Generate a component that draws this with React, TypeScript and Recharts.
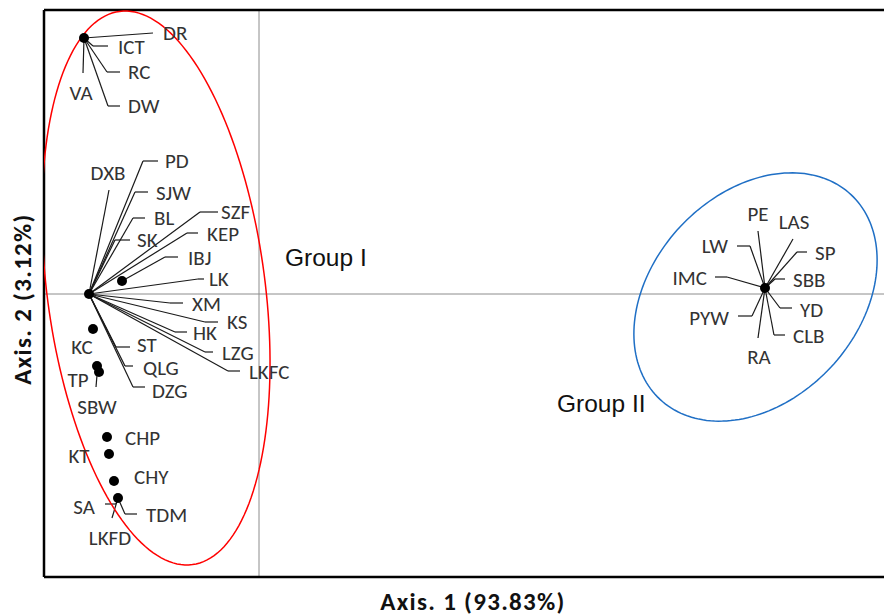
import { ScatterChart, Scatter, XAxis, YAxis, ReferenceLine } from "recharts";

// PCoA coordinates (axis units)
const dots = [
  { name: "DR", x: -1.75, y: 2.56 },
  { name: "core", x: -1.7, y: 0 },
  { name: "IBJ", x: -1.37, y: 0.13 },
  { name: "KC", x: -1.66, y: -0.35 },
  { name: "TP", x: -1.62, y: -0.72 },
  { name: "SBW", x: -1.6, y: -0.78 },
  { name: "CHP", x: -1.52, y: -1.43 },
  { name: "KT", x: -1.5, y: -1.6 },
  { name: "CHY", x: -1.45, y: -1.87 },
  { name: "SA", x: -1.41, y: -2.04 },
  { name: "G2", x: 5.06, y: 0.06 },
];

const labels = [
  { name: "DR", x: -0.96, y: 2.61, anchor: "start" },
  { name: "ICT", x: -1.41, y: 2.47, anchor: "start" },
  { name: "RC", x: -1.31, y: 2.22, anchor: "start" },
  { name: "DW", x: -1.31, y: 1.88, anchor: "start" },
  { name: "VA", x: -1.78, y: 2.01, anchor: "middle" },
  { name: "PD", x: -0.94, y: 1.33, anchor: "start" },
  { name: "DXB", x: -1.51, y: 1.21, anchor: "middle" },
  { name: "SJW", x: -1.03, y: 1.01, anchor: "start" },
  { name: "BL", x: -1.05, y: 0.76, anchor: "start" },
  { name: "SK", x: -1.22, y: 0.54, anchor: "start" },
  { name: "SZF", x: -0.38, y: 0.82, anchor: "start" },
  { name: "KEP", x: -0.52, y: 0.6, anchor: "start" },
  { name: "IBJ", x: -0.71, y: 0.36, anchor: "start" },
  { name: "LK", x: -0.5, y: 0.15, anchor: "start" },
  { name: "XM", x: -0.67, y: -0.1, anchor: "start" },
  { name: "KS", x: -0.32, y: -0.28, anchor: "start" },
  { name: "HK", x: -0.66, y: -0.39, anchor: "start" },
  { name: "LZG", x: -0.37, y: -0.59, anchor: "start" },
  { name: "LKFC", x: -0.1, y: -0.78, anchor: "start" },
  { name: "ST", x: -1.22, y: -0.505, anchor: "start" },
  { name: "QLG", x: -1.16, y: -0.735, anchor: "start" },
  { name: "DZG", x: -1.07, y: -0.965, anchor: "start" },
  { name: "KC", x: -1.77, y: -0.53, anchor: "middle" },
  { name: "TP", x: -1.81, y: -0.86, anchor: "middle" },
  { name: "SBW", x: -1.62, y: -1.13, anchor: "middle" },
  { name: "CHP", x: -1.34, y: -1.44, anchor: "start" },
  { name: "KT", x: -1.8, y: -1.62, anchor: "middle" },
  { name: "CHY", x: -1.25, y: -1.83, anchor: "start" },
  { name: "SA", x: -1.75, y: -2.13, anchor: "middle" },
  { name: "LKFD", x: -1.49, y: -2.44, anchor: "middle" },
  { name: "TDM", x: -1.13, y: -2.21, anchor: "start" },
  { name: "PE", x: 4.99, y: 0.8, anchor: "middle" },
  { name: "LAS", x: 5.35, y: 0.72, anchor: "middle" },
  { name: "LW", x: 4.69, y: 0.48, anchor: "end" },
  { name: "SP", x: 5.56, y: 0.41, anchor: "start" },
  { name: "IMC", x: 4.48, y: 0.16, anchor: "end" },
  { name: "SBB", x: 5.34, y: 0.14, anchor: "start" },
  { name: "PYW", x: 4.7, y: -0.24, anchor: "end" },
  { name: "YD", x: 5.41, y: -0.16, anchor: "start" },
  { name: "CLB", x: 5.34, y: -0.42, anchor: "start" },
  { name: "RA", x: 5.0, y: -0.63, anchor: "middle" },
];

// leader lines: start at the sample dot, end next to the label
const leaders: [number, number][][] = [
  [[-1.75, 2.56], [-1.06, 2.61]],
  [[-1.75, 2.56], [-1.66, 2.48], [-1.51, 2.48]],
  [[-1.75, 2.56], [-1.52, 2.22], [-1.39, 2.22]],
  [[-1.75, 2.56], [-1.51, 1.88], [-1.39, 1.88]],
  [[-1.75, 2.56], [-1.76, 2.21]],
  [[-1.7, 0], [-1.16, 1.33], [-1.01, 1.33]],
  [[-1.7, 0], [-1.5, 1.04]],
  [[-1.7, 0], [-1.24, 1.02], [-1.11, 1.02]],
  [[-1.7, 0], [-1.26, 0.76], [-1.14, 0.76]],
  [[-1.7, 0], [-1.44, 0.54], [-1.29, 0.54]],
  [[-1.7, 0], [-0.59, 0.82], [-0.41, 0.82]],
  [[-1.7, 0], [-0.72, 0.61], [-0.61, 0.61]],
  [[-1.37, 0.13], [-0.94, 0.37], [-0.81, 0.37]],
  [[-1.7, 0], [-0.61, 0.15], [-0.55, 0.15]],
  [[-1.7, 0], [-0.89, -0.09], [-0.76, -0.09]],
  [[-1.7, 0], [-0.54, -0.28], [-0.41, -0.28]],
  [[-1.7, 0], [-0.84, -0.38], [-0.72, -0.38]],
  [[-1.7, 0], [-0.54, -0.58], [-0.46, -0.58]],
  [[-1.7, 0], [-0.31, -0.77], [-0.19, -0.77]],
  [[-1.7, 0], [-1.43, -0.53], [-1.29, -0.53]],
  [[-1.7, 0], [-1.34, -0.72], [-1.26, -0.72]],
  [[-1.7, 0], [-1.26, -0.93], [-1.14, -0.93]],
  [[-1.62, -0.81], [-1.63, -0.93]],
  [[-1.41, -2.04], [-1.43, -2.1], [-1.54, -2.1]],
  [[-1.41, -2.04], [-1.47, -2.24]],
  [[-1.41, -2.04], [-1.34, -2.2], [-1.22, -2.2]],
  [[5.06, 0.06], [4.99, 0.63]],
  [[5.06, 0.06], [5.34, 0.55]],
  [[5.06, 0.06], [4.91, 0.48], [4.78, 0.48]],
  [[5.06, 0.06], [5.38, 0.42], [5.48, 0.42]],
  [[5.06, 0.06], [4.68, 0.17], [4.56, 0.17]],
  [[5.06, 0.06], [5.16, 0.15], [5.26, 0.15]],
  [[5.06, 0.06], [4.93, -0.22], [4.79, -0.22]],
  [[5.06, 0.06], [5.21, -0.14], [5.33, -0.14]],
  [[5.06, 0.06], [5.15, -0.41], [5.26, -0.41]],
  [[5.06, 0.06], [4.99, -0.44]],
];

const groupNames = [
  { name: "Group I", x: 0.26, y: 0.37 },
  { name: "Group II", x: 2.98, y: -1.09 },
];

// confidence ellipses: centre, semi-axes, rotation (deg)
const ellipses = [
  { cx: -1.03, cy: 0.06, a: 2.79, b: 1.09, rot: 97.5, color: "#ff0000" },
  { cx: 4.965, cy: -0.03, a: 1.4, b: 1.03, rot: 47, color: "#1f6fc5" },
];

const xDomain: [number, number] = [-2.15, 6.33];
const yDomain: [number, number] = [-2.83, 2.84];

function ellipsePoints(e: (typeof ellipses)[number]) {
  const r = (e.rot * Math.PI) / 180;
  const pts = [];
  for (let i = 0; i <= 180; i++) {
    const t = (i / 180) * 2 * Math.PI;
    const u = e.a * Math.cos(t);
    const v = e.b * Math.sin(t);
    pts.push({ x: e.cx + u * Math.cos(r) - v * Math.sin(r), y: e.cy + u * Math.sin(r) + v * Math.cos(r) });
  }
  return pts;
}

const labelFont = "Carlito, Calibri, Lato, sans-serif";

const titleStyle = {
  position: "absolute" as const,
  whiteSpace: "nowrap" as const,
  fontFamily: labelFont,
  fontWeight: 700,
  fontSize: 25,
  letterSpacing: 1.3,
  color: "#111",
};

export default function App() {
  return (
    <div style={{ position: "relative", width: 884, height: 607 }}>
      <ScatterChart width={884} height={607} margin={{ top: 2, right: 0, bottom: 38, left: 36 }}>
        <XAxis type="number" dataKey="x" domain={xDomain} hide allowDataOverflow />
        <YAxis type="number" dataKey="y" domain={yDomain} hide allowDataOverflow />
        <ReferenceLine x={0} stroke="#8c8c8c" strokeWidth={1} />
        <ReferenceLine y={0} stroke="#8c8c8c" strokeWidth={1} />
        <ReferenceLine x={xDomain[0]} stroke="#000" strokeWidth={2.5} />
        <ReferenceLine y={yDomain[0]} stroke="#000" strokeWidth={2.5} />
        <ReferenceLine y={yDomain[1]} stroke="#000" strokeWidth={2.5} />
        {leaders.flatMap((path, i) =>
          path.slice(1).map((p, j) => (
            <ReferenceLine
              key={`l${i}-${j}`}
              segment={[
                { x: path[j][0], y: path[j][1] },
                { x: p[0], y: p[1] },
              ]}
              stroke="#1a1a1a"
              strokeWidth={1.2}
            />
          ))
        )}
        {ellipses.map((e, i) => (
          <Scatter
            key={`e${i}`}
            data={ellipsePoints(e)}
            line={{ stroke: e.color, strokeWidth: 1.5 }}
            lineType="joint"
            stroke={e.color}
            shape={() => <g />}
            isAnimationActive={false}
          />
        ))}
        <Scatter
          data={dots}
          isAnimationActive={false}
          shape={(p: any) => <circle cx={p.cx} cy={p.cy} r={5} fill="#000" />}
        />
        <Scatter
          data={labels}
          isAnimationActive={false}
          shape={(p: any) => (
            <text
              x={p.cx}
              y={p.cy}
              textAnchor={p.payload.anchor}
              dominantBaseline="central"
              fontFamily={labelFont}
              fontSize={21}
              fill="#333"
            >
              {p.payload.name}
            </text>
          )}
        />
        <Scatter
          data={groupNames}
          isAnimationActive={false}
          shape={(p: any) => (
            <text
              x={p.cx}
              y={p.cy}
              dominantBaseline="central"
              fontFamily="'Liberation Sans', Arial, sans-serif"
              fontSize={24.5}
              fill="#111"
            >
              {p.payload.name}
            </text>
          )}
        />
      </ScatterChart>
      <div style={{ ...titleStyle, left: 465, top: 593, transform: "translate(-50%, -50%)" }}>
        Axis. 1 (93.83%)
      </div>
      <div style={{ ...titleStyle, left: 14, top: 291, transform: "translate(-50%, -50%) rotate(-90deg)" }}>
        Axis. 2 (3.12%)
      </div>
    </div>
  );
}
